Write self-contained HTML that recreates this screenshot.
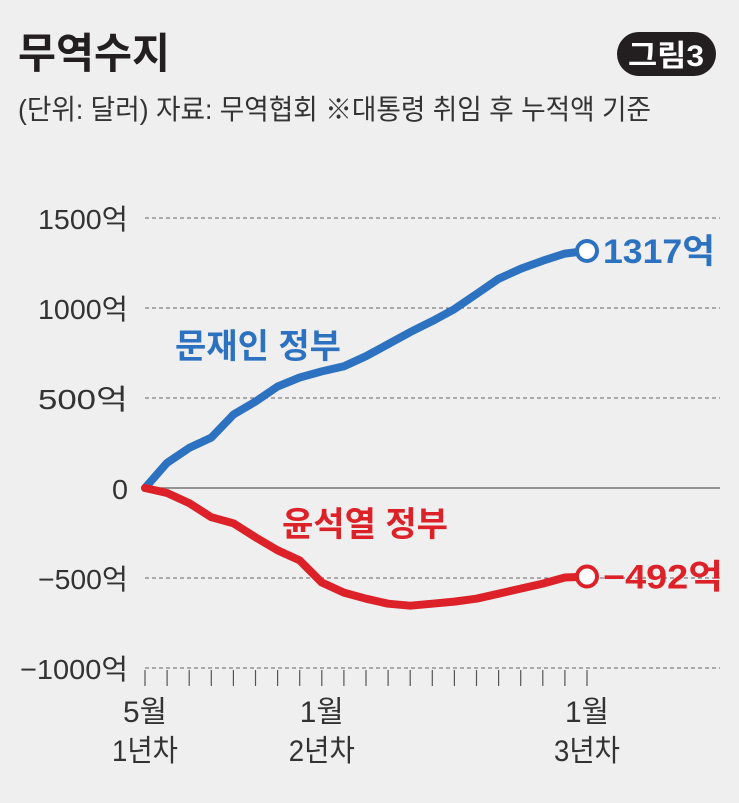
<!DOCTYPE html>
<html><head><meta charset="utf-8">
<style>
html,body{margin:0;padding:0;background:#efefef;}
svg{display:block;font-family:"Liberation Sans","Noto Sans CJK KR",sans-serif;}
</style></head>
<body>
<svg width="739" height="803" viewBox="0 0 739 803">
<rect width="739" height="803" fill="#efefef"/>
<text x="18" y="68" font-size="42" font-weight="bold" fill="#231f20" textLength="152" lengthAdjust="spacingAndGlyphs">무역수지</text>
<rect x="617" y="32" width="99" height="44" rx="22" fill="#231f20"/>
<text x="666" y="66" font-size="30" font-weight="bold" fill="#fff" text-anchor="middle" textLength="76" lengthAdjust="spacingAndGlyphs">그림3</text>
<text x="18" y="119" font-size="28" fill="#333" textLength="633" lengthAdjust="spacingAndGlyphs">(단위: 달러) 자료: 무역협회 ※대통령 취임 후 누적액 기준</text>
<g id="grid"></g>
<g id="xaxis"></g>
<g id="series"></g>
<text x="175" y="358" font-size="34" font-weight="bold" fill="#2d72c0" textLength="166" lengthAdjust="spacingAndGlyphs">문재인 정부</text>
<text x="282" y="536" font-size="34" font-weight="bold" fill="#dc2128" textLength="166" lengthAdjust="spacingAndGlyphs">윤석열 정부</text>
</svg>
<script>
const months = [0,1,2,3,4,5,6,7,8,9,10,11,12,13,14,15,16,17,18,19,20];
const moonValues = [0,140,223,280,408,480,564,614,648,676,732,799,866,927,994,1078,1162,1218,1263,1302,1317];
const yoonValues = [0,-28,-84,-162,-196,-274,-346,-402,-525,-581,-615,-643,-654,-643,-631,-615,-587,-559,-531,-497,-492];
const yTicks = [1500,1000,500,0,-500,-1000];
const yTickLabels = ["1500억","1000억","500억","0","−500억","−1000억"];
const xLabelMonths = [0,8,20];
const xLabels = [["5월","1년차"],["1월","2년차"],["1월","3년차"]];
const endLabels = ["1317억","−492억"];

const NS="http://www.w3.org/2000/svg";
const X0=145, DX=22.1, Y0=488, PY=90/500;
const xs=m=>X0+m*DX;
const ys=v=>Y0-v*PY;
function mk(tag,attrs,parent){const e=document.createElementNS(NS,tag);for(const k in attrs)e.setAttribute(k,attrs[k]);parent.appendChild(e);return e;}
const grid=document.getElementById('grid');
yTicks.forEach((t,i)=>{
  const y=ys(t);
  const ln=mk('line',{x1:145,x2:720,y1:y,y2:y,stroke:t===0?'#777':'#666','stroke-width':t===0?1.5:1,'stroke-dasharray':t===0?'none':'4 3'},grid);
  
  
  const tx=mk('text',{x:128,y:y+11,'font-size':28,fill:'#333','text-anchor':'end',textLength:yTickLabels[i].length>3?(yTickLabels[i].length>5?108:90):(t===0?16:76),lengthAdjust:'spacingAndGlyphs'},grid);
  tx.textContent=yTickLabels[i];
  
  
});
const xa=document.getElementById('xaxis');
months.forEach(m=>{
  const t=mk('line',{x1:xs(m),x2:xs(m),y1:670,y2:686,stroke:'#555','stroke-width':1.2},xa);
  
  
});
xLabelMonths.forEach((m,i)=>{
  const a=mk('text',{x:xs(m),y:722,'font-size':30,fill:'#333','text-anchor':'middle',textLength:44,lengthAdjust:'spacingAndGlyphs'},xa);
  a.textContent=xLabels[i][0];
  
  
  const b=mk('text',{x:xs(m),y:761,'font-size':30,fill:'#333','text-anchor':'middle',textLength:66,lengthAdjust:'spacingAndGlyphs'},xa);
  b.textContent=xLabels[i][1];
  
  
});
const sg=document.getElementById('series');
[[moonValues,'#2d72c0','moon'],[yoonValues,'#dc2128','yoon']].forEach(([vals,col,nm],si)=>{
  const pts=vals.map((v,i)=>xs(months[i]).toFixed(1)+','+ys(v).toFixed(1)).join(' ');
  const pl=mk('polyline',{points:pts,fill:'none',stroke:col,'stroke-width':8,'stroke-linejoin':'round','stroke-linecap':'round'},sg);
  
  
  const lm=months[months.length-1], lv=vals[vals.length-1];
  const c=mk('circle',{cx:xs(lm),cy:ys(lv),r:10,fill:'#fff',stroke:col,'stroke-width':4},sg);
  
  
  const t=mk('text',{x:xs(lm)+16,y:ys(lv)+12,'font-size':34,'font-weight':'bold',fill:col,textLength:si===0?112:120,lengthAdjust:'spacingAndGlyphs'},sg);
  t.textContent=endLabels[si];
  
  
});
</script>
</body></html>
